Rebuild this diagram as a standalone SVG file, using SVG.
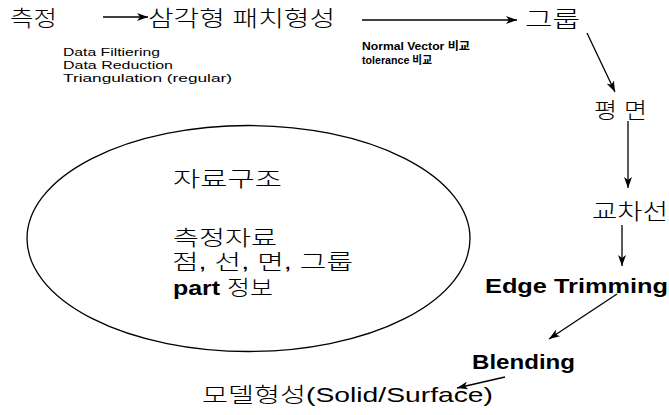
<svg xmlns="http://www.w3.org/2000/svg" width="669" height="415" viewBox="0 0 669 415">
<defs>
<style>
.ko{font-family:"Liberation Sans","Noto Sans CJK KR",sans-serif;fill:#000;font-weight:300}
.big{font-size:22px}
.mid{font-size:21px}
.sm{font-family:"Liberation Sans","Noto Sans CJK KR",sans-serif;font-size:11px;fill:#000}
.b{font-weight:bold}
.ln{stroke:#000;stroke-width:1.3;fill:none}
</style>
<marker id="ah" markerUnits="userSpaceOnUse" markerWidth="12" markerHeight="8" refX="11" refY="4" orient="auto">
<path d="M0,0 L11,4 L0,8 L3,4 z" fill="#000"/>
</marker>
</defs>
<rect width="669" height="415" fill="#fff"/>

<g id="connectors">
<line class="ln" x1="103" y1="17" x2="148" y2="17" marker-end="url(#ah)"/>
<line class="ln" x1="362" y1="20" x2="517" y2="20" marker-end="url(#ah)"/>
<line class="ln" x1="587" y1="33" x2="615" y2="92" marker-end="url(#ah)"/>
<line class="ln" x1="628" y1="121" x2="628" y2="188" marker-end="url(#ah)"/>
<line class="ln" x1="622" y1="225" x2="622" y2="266" marker-end="url(#ah)"/>
<line class="ln" x1="617" y1="294" x2="549" y2="339" marker-end="url(#ah)"/>
<line class="ln" x1="505" y1="377" x2="457" y2="388" marker-end="url(#ah)"/>
</g>

<g id="node-measure">
<text class="ko big" x="10" y="25.5" textLength="47" lengthAdjust="spacingAndGlyphs">측정</text>
</g>
<g id="node-patch">
<text class="ko big" x="148" y="25.5" textLength="187" lengthAdjust="spacingAndGlyphs">삼각형 패치형성</text>
<text class="sm" x="63" y="56" textLength="97" lengthAdjust="spacingAndGlyphs">Data Filtiering</text>
<text class="sm" x="63" y="69" textLength="110" lengthAdjust="spacingAndGlyphs">Data Reduction</text>
<text class="sm" x="63" y="82" textLength="169" lengthAdjust="spacingAndGlyphs">Triangulation (regular)</text>
</g>
<g id="node-group">
<text class="ko big" x="525" y="27" textLength="55" lengthAdjust="spacingAndGlyphs">그룹</text>
<text class="sm b" x="362" y="50" textLength="108" lengthAdjust="spacingAndGlyphs">Normal Vector 비교</text>
<text class="sm b" x="362" y="64" textLength="70" lengthAdjust="spacingAndGlyphs">tolerance 비교</text>
</g>
<g id="node-plane">
<text class="ko big" x="594" y="117.5" textLength="53" lengthAdjust="spacingAndGlyphs">평 면</text>
</g>
<g id="node-intersection">
<text class="ko big" x="592" y="218.5" textLength="76" lengthAdjust="spacingAndGlyphs">교차선</text>
</g>
<g id="node-edge">
<text class="ko mid b" x="485" y="292.5" textLength="183" lengthAdjust="spacingAndGlyphs">Edge Trimming</text>
</g>
<g id="node-blending">
<text class="ko mid b" x="472" y="369" textLength="103" lengthAdjust="spacingAndGlyphs">Blending</text>
</g>
<g id="node-model">
<text class="ko mid" x="202" y="402" textLength="291" lengthAdjust="spacingAndGlyphs">모델형성(Solid/Surface)</text>
</g>
<g id="node-datastructure">
<ellipse class="ln" cx="248.5" cy="238.5" rx="221.5" ry="113"/>
<text class="ko mid" x="173" y="186" textLength="109" lengthAdjust="spacingAndGlyphs">자료구조</text>
<text class="ko mid" x="173" y="244.5" textLength="104" lengthAdjust="spacingAndGlyphs">측정자료</text>
<text class="ko mid" x="172" y="268.5" textLength="181" lengthAdjust="spacingAndGlyphs">점, 선, 면, 그룹</text>
<text class="ko mid" x="173" y="295" textLength="100" lengthAdjust="spacingAndGlyphs"><tspan class="b">part</tspan> 정보</text>
</g>
</svg>
